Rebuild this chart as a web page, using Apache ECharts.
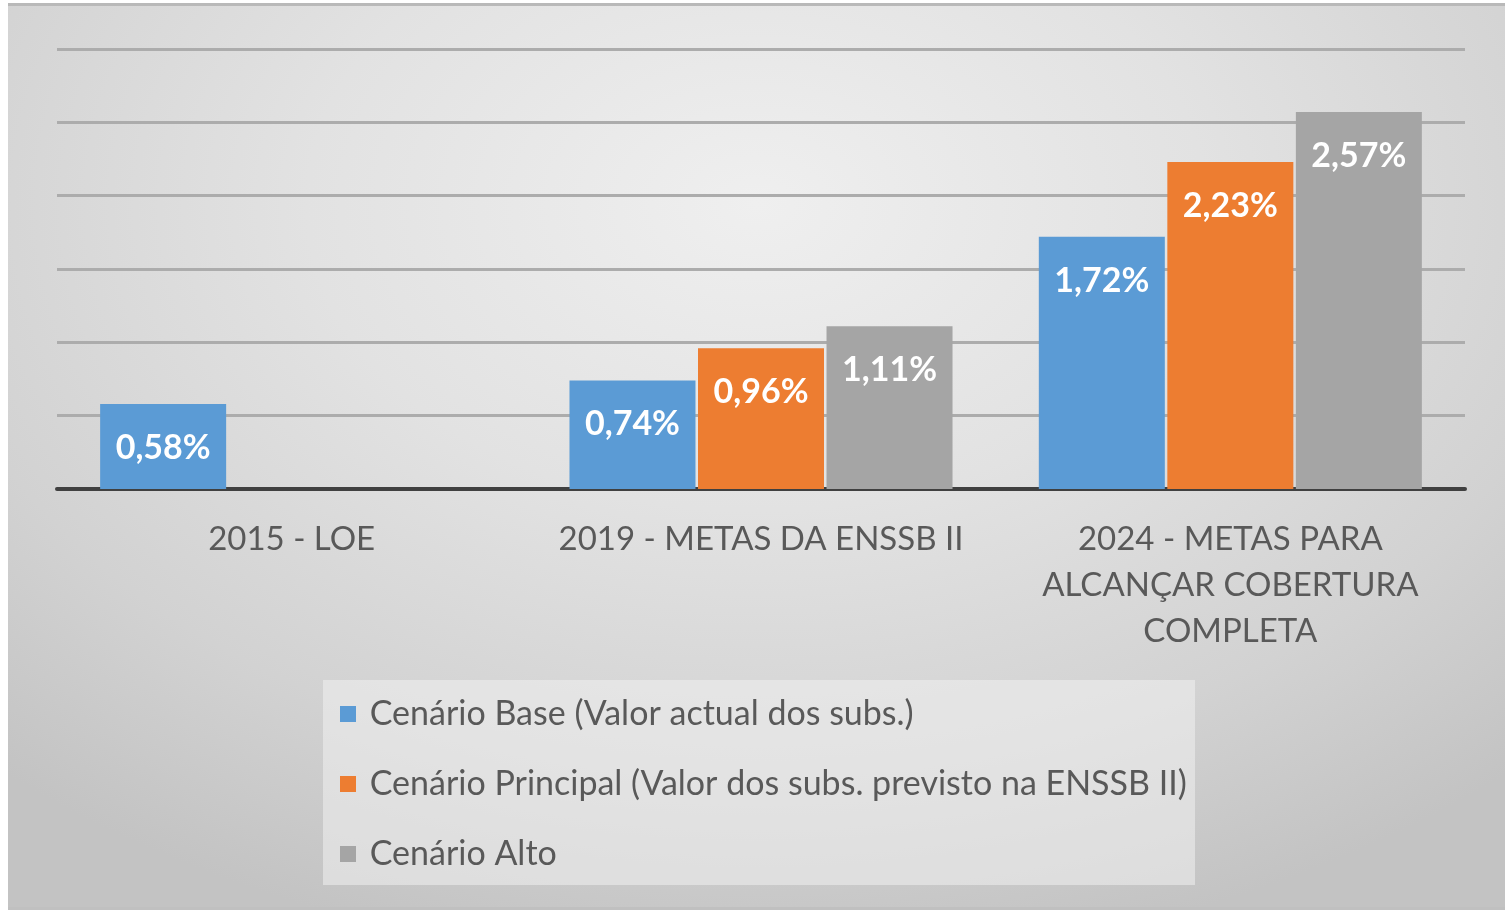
<!DOCTYPE html>
<html>
<head>
<meta charset="utf-8">
<script src="https://cdn.jsdelivr.net/npm/echarts@6/dist/echarts.min.js"></script>
<style>
  html, body { margin: 0; padding: 0; background: #fff; }
  #bg {
    position: absolute; left: 8px; top: 3px; width: 1497px; height: 907px;
    border-top: 3px solid #b9b9b9; border-bottom: 3px solid #c0c0c0;
    box-sizing: border-box;
    background: radial-gradient(ellipse 75% 85% at 50% 22%, #efefef 0%, #e2e2e2 40%, #d2d2d2 75%, #c3c3c3 100%);
  }
  #chart { position: absolute; left: 0; top: 0; width: 1512px; height: 913px; }
</style>
</head>
<body>
<div id="bg"></div>
<div id="chart"></div>
<script>
const categories = ['2015 - LOE', '2019 - METAS DA ENSSB II', '2024 - METAS PARA\nALCANÇAR COBERTURA\nCOMPLETA'];
const seriesNames = ['Cenário Base (Valor actual dos subs.)', 'Cenário Principal (Valor dos subs. previsto na ENSSB II)', 'Cenário Alto'];
const baseValues = [0.58, 0.74, 1.72];
const principalValues = [null, 0.96, 2.23];
const altoValues = [null, 1.11, 2.57];
const colors = ['#5b9bd5', '#ed7d31', '#a5a5a5'];

const font = 'Lato, "Open Sans", sans-serif';

const chart = echarts.init(document.getElementById('chart'));

function makeSeries(name, data, color) {
    return {
        name: name,
        type: 'bar',
        data: data,
        barWidth: 126,
        barGap: '2%',
        itemStyle: { color: color },
        label: {
            show: true,
            position: 'insideTop',
            distance: 27,
            color: '#ffffff',
            fontFamily: font,
            fontWeight: 'bold',
            fontSize: 34,
            formatter: p => p.value.toFixed(2).replace('.', ',') + '%',
        },
    };
}

chart.setOption({
    animation: false,
    backgroundColor: 'transparent',
    graphic: [
        {
            type: 'rect',
            left: 323, top: 680,
            shape: { width: 872, height: 205 },
            style: { fill: 'rgba(240,240,240,0.55)' },
            z: -1,
        },
    ],
    grid: { left: 57, right: 47, top: 49, bottom: 424 },
    legend: {
        orient: 'vertical',
        left: 335,
        top: 692,
        itemWidth: 16,
        itemHeight: 16,
        itemGap: 36,
        icon: 'rect',
        formatter: name => ' ' + name,
        textStyle: { fontFamily: font, fontSize: 34, color: '#595959', lineHeight: 34 },
        data: seriesNames,
    },
    xAxis: {
        type: 'category',
        data: categories,
        axisLine: { lineStyle: { color: '#404040', width: 4 } },
        axisTick: { show: false },
        axisLabel: {
            fontFamily: font,
            fontSize: 33,
            color: '#595959',
            lineHeight: 46,
            margin: 27,
            interval: 0,
        },
    },
    yAxis: {
        type: 'value',
        min: 0,
        max: 3,
        interval: 0.5,
        axisLabel: { show: false },
        axisLine: { show: false },
        axisTick: { show: false },
        splitLine: { lineStyle: { color: '#acacac', width: 3 } },
    },
    series: [
        makeSeries(seriesNames[0], baseValues, colors[0]),
        makeSeries(seriesNames[1], principalValues, colors[1]),
        makeSeries(seriesNames[2], altoValues, colors[2]),
    ],
});
</script>
</body>
</html>
